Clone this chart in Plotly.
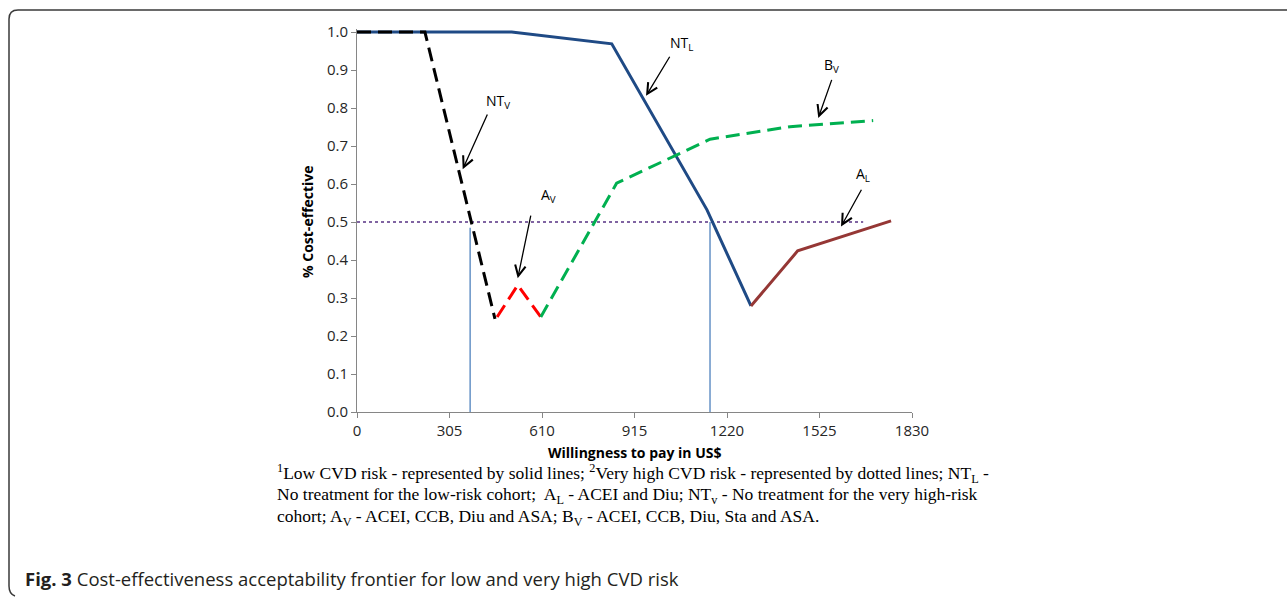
import plotly.graph_objects as go

# ---------------- data ----------------
nt_l_x = [0, 510, 840, 1154, 1299]
nt_l_y = [1.0, 1.0, 0.969, 0.532, 0.279]

a_l_x = [1299, 1453, 1761]
a_l_y = [0.279, 0.424, 0.503]

nt_v_x = [0, 224, 455]
nt_v_y = [1.0, 1.0, 0.245]

a_v_x = [462, 530, 606]
a_v_y = [0.25, 0.334, 0.25]

b_v_x = [606, 856, 1164, 1428, 1702]
b_v_y = [0.25, 0.602, 0.718, 0.751, 0.767]

threshold_x = [0, 1669]
threshold_y = [0.5, 0.5]

vline1_x = [373, 373]
vline1_y = [0, 0.485]
vline2_x = [1164, 1164]
vline2_y = [0, 0.5]

x_ticks = [0, 305, 610, 915, 1220, 1525, 1830]
y_ticks = [0.0, 0.1, 0.2, 0.3, 0.4, 0.5, 0.6, 0.7, 0.8, 0.9, 1.0]

# ---------------- layout constants ----------------
W, H = 1287, 597
PX0, PW = 357, 555          # plot area left / width (pixels)
PYB, PH = 412, 383          # plot area bottom / height (pixels)
Y_TOP = 1.008

def px(x):
    return (x - PX0) / PW

def py(y):
    return (PYB - y) / PH

fig = go.Figure()

def add_line(x, y, color, width, dash="solid"):
    fig.add_trace(go.Scatter(x=x, y=y, mode="lines", showlegend=False,
                             line=dict(color=color, width=width, dash=dash),
                             hoverinfo="skip"))

add_line(vline1_x, vline1_y, "#4F81BD", 1.3)
add_line(vline2_x, vline2_y, "#4F81BD", 1.3)
add_line(threshold_x, threshold_y, "#8064A2", 2, "dot")
add_line(nt_l_x, nt_l_y, "#1F4A85", 3)
add_line(a_l_x, a_l_y, "#953735", 3)
add_line(nt_v_x, nt_v_y, "#000000", 3, "14px,7px")
add_line(a_v_x, a_v_y, "#FF0000", 3, "14px,7px")
add_line(b_v_x, b_v_y, "#00B050", 3, "14px,7px")

TICKFONT = dict(family="Open Sans", size=15, color="#262626")

fig.update_layout(
    width=W, height=H,
    margin=dict(l=PX0, r=W - PX0 - PW, t=PYB - PH, b=H - PYB),
    paper_bgcolor="white", plot_bgcolor="white",
    xaxis=dict(range=[0, 1830], tickmode="array", tickvals=x_ticks,
               ticktext=[str(v) for v in x_ticks],
               showgrid=False, zeroline=False, showline=True,
               linecolor="#868686", linewidth=1,
               ticks="outside", ticklen=5, tickcolor="#868686",
               tickfont=TICKFONT),
    yaxis=dict(range=[0, Y_TOP], tickmode="array", tickvals=y_ticks,
               ticktext=[f"{v:.1f}" for v in y_ticks],
               showgrid=False, zeroline=False, showline=True,
               linecolor="#868686", linewidth=1,
               ticks="outside", ticklen=5, tickcolor="#868686",
               tickfont=TICKFONT),
)

annotations = []

# axis titles
annotations.append(dict(xref="paper", yref="paper", x=px(634), y=py(452),
                        xanchor="center", yanchor="middle",
                        text="<b>Willingness to pay in US$</b>", showarrow=False,
                        font=dict(family="Open Sans", size=14, color="#000000")))
annotations.append(dict(xref="paper", yref="paper", x=px(307), y=py(222),
                        xanchor="center", yanchor="middle",
                        text="<b>% Cost-effective</b>", showarrow=False, textangle=-90,
                        font=dict(family="Open Sans", size=14, color="#000000")))

# series labels (text) and arrows
labels = [
    ("NT<sub>V</sub>", 465, 0.817),
    ("NT<sub>L</sub>", 1070, 0.970),
    ("B<sub>V</sub>", 1565, 0.913),
    ("A<sub>L</sub>", 1669, 0.624),
    ("A<sub>V</sub>", 631, 0.571),
]
for t, x, y in labels:
    annotations.append(dict(x=x, y=y, xref="x", yref="y", text=t, showarrow=False,
                            xanchor="center", yanchor="middle",
                            font=dict(family="Open Sans", size=14, color="#000000")))

arrows = [
    (432, 0.787, 348.5, 0.639),
    (1034, 0.939, 953, 0.832),
    (1567, 0.878, 1521, 0.774),
    (1666, 0.589, 1596, 0.488),
    (574, 0.521, 530, 0.352),
]
for ax_, ay_, x, y in arrows:
    annotations.append(dict(x=x, y=y, xref="x", yref="y", ax=ax_, ay=ay_,
                            axref="x", ayref="y", text="", showarrow=True,
                            arrowhead=5, arrowsize=1.6, arrowwidth=1.3,
                            arrowcolor="#000000"))

# caption lines
CAP = dict(family="Liberation Serif", size=17.5, color="#000000")
cap_lines = [
    (473, "<sup>1</sup>Low CVD risk - represented by solid lines; <sup>2</sup>Very high CVD risk - represented by dotted lines; NT<sub>L</sub> -"),
    (495, "No treatment for the low-risk cohort;  A<sub>L</sub> - ACEI and Diu; NT<sub>v</sub> - No treatment for the very high-risk"),
    (517, "cohort; A<sub>V</sub> - ACEI, CCB, Diu and ASA; B<sub>V</sub> - ACEI, CCB, Diu, Sta and ASA."),
]
for yy, t in cap_lines:
    annotations.append(dict(xref="paper", yref="paper", x=px(275), y=py(yy),
                            xanchor="left", yanchor="middle", text=t,
                            showarrow=False, font=CAP))

annotations.append(dict(xref="paper", yref="paper", x=px(23), y=py(578),
                        xanchor="left", yanchor="middle",
                        text="<b>Fig. 3</b> Cost-effectiveness acceptability frontier for low and very high CVD risk",
                        showarrow=False,
                        font=dict(family="Open Sans", size=18.5, color="#231F20")))

fig.update_layout(annotations=annotations)

# frame (top + left rounded border)
path = (f"M {px(1287)},{py(10)} L {px(18)},{py(10)} "
        f"Q {px(9)},{py(10)} {px(9)},{py(19)} "
        f"L {px(9)},{py(586)} Q {px(9)},{py(594)} {px(15)},{py(596)}")
fig.add_shape(type="path", path=path, xref="paper", yref="paper",
              line=dict(color="#3a3a3a", width=1.5), layer="above")

fig.write_html("out.html")
